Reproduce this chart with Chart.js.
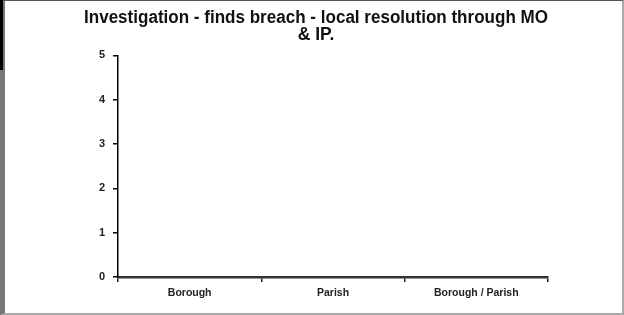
<!DOCTYPE html>
<html>
<head>
<meta charset="utf-8">
<script src="https://cdn.jsdelivr.net/npm/chart.js@4"></script>
<style>
  html, body { margin: 0; padding: 0; background: #fff; }
  #frame {
    position: absolute; left: 0; top: 0; width: 624px; height: 315px;
    box-sizing: border-box;
    border-top: 1px solid #555;
    border-right: 2px solid #aaa;
    border-bottom: 2px solid #aaa;
    border-left: 5px solid #777;
  }
  #mark { position: absolute; left: 0; top: 0; width: 3px; height: 70px; background: #000; }
  #wrap { position: absolute; left: 0; top: 0; width: 624px; height: 315px; }
</style>
</head>
<body>
<div id="frame"></div>
<div id="mark"></div>
<div id="wrap"><canvas id="c"></canvas></div>
<script>
const categories = ["Borough", "Parish", "Borough / Parish"];
const counts = [0, 0, 0];
const yTicks = [0, 1, 2, 3, 4, 5];
const titleLines = ["Investigation - finds breach - local resolution through MO", "& IP."];

Chart.defaults.font.family = "'Liberation Sans', Arial, sans-serif";
Chart.defaults.color = "#000";

new Chart(document.getElementById("c"), {
  type: "bar",
  data: {
    labels: categories,
    datasets: [{ label: "Count", data: counts, backgroundColor: "#333399" }],
  },
  options: {
    responsive: true,
    maintainAspectRatio: false,
    animation: false,
    layout: { padding: { left: 84, right: 76, top: 0, bottom: 10 } },
    plugins: {
      legend: { display: false },
      tooltip: { enabled: false },
      title: {
        display: true,
        text: titleLines,
        color: "#111",
        font: { size: 17.5, weight: "bold", lineHeight: 0.95 },
        padding: { top: 10, bottom: 12 },
      },
    },
    scales: {
      x: {
        afterFit: (s) => { s.height = 28; },
        grid: { drawOnChartArea: false, drawTicks: true, tickLength: 5, color: "#222", lineWidth: 1.5 },
        border: { display: true, color: "#333", width: 2.5 },
        ticks: { font: { size: 10.5, weight: "bold" }, padding: 5, color: "#222" },
      },
      y: {
        min: 0,
        max: 5,
        afterBuildTicks: (s) => { s.ticks = yTicks.map((v) => ({ value: v })); },
        afterFit: (s) => { s.width = 34; },
        grid: { drawOnChartArea: false, drawTicks: true, tickLength: 5, color: "#000", lineWidth: 1.5 },
        border: { display: true, color: "#000", width: 1.5 },
        ticks: { font: { size: 11, weight: "bold" }, padding: 8, color: "#222" },
      },
    },
  },
});
</script>
</body>
</html>
